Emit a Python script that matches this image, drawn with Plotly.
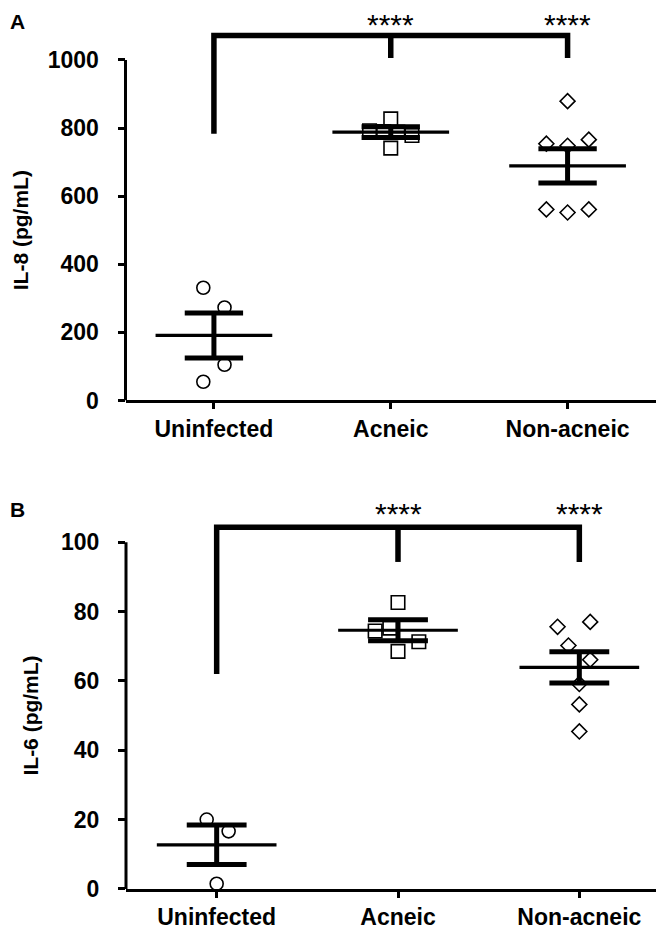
import plotly.graph_objects as go

categories = ["Uninfected", "Acneic", "Non-acneic"]

# ---- Panel A: IL-8 (pg/mL) ----
il8_uninfected = [331, 273, 105, 55]
il8_acneic = [827, 741, 792, 790, 788, 778]
il8_nonacneic = [879, 754, 748, 766, 561, 552, 561]
il8_mean = [191, 788, 689]
il8_sem = [66, 16, 50]
il8_ticks = [0, 200, 400, 600, 800, 1000]
il8_bracket = [783, 1072, 1006]      # left-leg bottom, top bar, tick bottom
il8_star_y = 1104

# ---- Panel B: IL-6 (pg/mL) ----
il6_uninfected = [20.0, 16.6, 1.5]
il6_acneic = [82.6, 74.4, 75.2, 71.3, 68.5]
il6_nonacneic = [75.6, 77.0, 70.2, 66.1, 59.1, 53.2, 45.4]
il6_mean = [12.7, 74.6, 63.9]
il6_sem = [5.7, 3.0, 4.5]
il6_ticks = [0, 20, 40, 60, 80, 100]
il6_bracket = [62, 104.3, 94.3]
il6_star_y = 108.2

# horizontal jitter of the individual points (category units)
jit_A = [[-0.06, 0.06, 0.06, -0.06],
         [0, 0, -0.12, -0.04, 0.04, 0.12],
         [0, -0.12, 0, 0.12, -0.12, 0, 0.12]]
jit_B = [[-0.055, 0.066, 0.0],
         [0.0, -0.126, -0.045, 0.115, 0.0],
         [-0.12, 0.06, -0.06, 0.06, 0.0, 0.0, 0.0]]

symbols = ["circle", "square", "diamond"]
msizes = [13, 13.5, 11.5]

W, H = 664, 936
FONT = "Liberation Sans, Arial, sans-serif"

fig = go.Figure()


def add_panel(xa, ya, groups, jit, mean, sem, bracket):
    for i, vals in enumerate(groups):
        fig.add_trace(go.Scatter(
            x=[i + j for j in jit[i]], y=vals, mode="markers",
            marker=dict(symbol=symbols[i], size=msizes[i], color="white",
                        line=dict(color="black", width=1.6)),
            xaxis=xa, yaxis=ya, showlegend=False, hoverinfo="skip"))
    mx, my, ex, ey = [], [], [], []
    for i, (m, s) in enumerate(zip(mean, sem)):
        mx += [i - 0.33, i + 0.33, None]
        my += [m, m, None]
        ex += [i - 0.165, i + 0.165, None, i - 0.165, i + 0.165, None, i, i, None]
        ey += [m + s, m + s, None, m - s, m - s, None, m - s, m + s, None]
    fig.add_trace(go.Scatter(x=mx, y=my, mode="lines",
                             line=dict(color="black", width=3.2),
                             xaxis=xa, yaxis=ya, showlegend=False, hoverinfo="skip"))
    fig.add_trace(go.Scatter(x=ex, y=ey, mode="lines",
                             line=dict(color="black", width=5),
                             xaxis=xa, yaxis=ya, showlegend=False, hoverinfo="skip"))
    lo, top, tk = bracket
    fig.add_trace(go.Scatter(x=[0, 0, 2, 2, None, 1, 1],
                             y=[lo, top, top, tk, None, top, tk], mode="lines",
                             line=dict(color="black", width=5.5),
                             xaxis=xa, yaxis=ya, showlegend=False, hoverinfo="skip"))


add_panel("x", "y", [il8_uninfected, il8_acneic, il8_nonacneic], jit_A,
          il8_mean, il8_sem, il8_bracket)
add_panel("x2", "y2", [il6_uninfected, il6_acneic, il6_nonacneic], jit_B,
          il6_mean, il6_sem, il6_bracket)

# pixel geometry of the two plotting areas
A_left, A_right, A_zero, A_ppu, A_top = 117.5, 648, 398, 0.3453, 1150
B_left, B_right, B_zero, B_ppu, B_top = 118, 662, 893.3, 3.516, 113

tickfont = dict(family=FONT, size=23, color="black", weight="bold")
xtickfont = dict(family=FONT, size=23, color="black", weight="bold")


def xaxis_cfg(l, r, anchor):
    return dict(domain=[l / W, r / W], range=[-0.5, 2.5], anchor=anchor,
                tickvals=[0, 1, 2], ticktext=categories, showline=True,
                linecolor="black", linewidth=3, ticks="outside", ticklen=6,
                tickwidth=2.5, tickcolor="black", tickfont=xtickfont,
                showgrid=False, zeroline=False, ticklabelstandoff=0)


def yaxis_cfg(zero, ppu, top, ticks, anchor):
    return dict(domain=[(H - zero) / H, (H - (zero - top * ppu)) / H],
                range=[0, top], anchor=anchor, tickvals=ticks,
                showline=False, ticks="outside", ticklen=7, tickwidth=2.5,
                tickcolor="black", tickfont=tickfont, showgrid=False,
                zeroline=False, ticklabelstandoff=14)


fig.update_layout(
    width=W, height=H, margin=dict(l=0, r=0, t=0, b=0),
    paper_bgcolor="white", plot_bgcolor="white",
    xaxis=xaxis_cfg(A_left, A_right, "y"),
    yaxis=yaxis_cfg(A_zero, A_ppu, A_top, il8_ticks, "x"),
    xaxis2=xaxis_cfg(B_left, B_right, "y2"),
    yaxis2=yaxis_cfg(B_zero, B_ppu, B_top, il6_ticks, "x2"),
)

# y-axis lines only spanning the tick range
fig.add_shape(type="line", xref="x domain", yref="y", x0=0, x1=0,
              y0=0, y1=il8_ticks[-1], line=dict(color="black", width=3))
fig.add_shape(type="line", xref="x2 domain", yref="y2", x0=0, x1=0,
              y0=0, y1=il6_ticks[-1], line=dict(color="black", width=3))

ann = []
for xr, yr, sy in [("x", "y", il8_star_y), ("x2", "y2", il6_star_y)]:
    for cx in [1, 2]:
        ann.append(dict(x=cx, y=sy, xref=xr, yref=yr, text="****",
                        showarrow=False, xanchor="center", yanchor="middle",
                        font=dict(family=FONT, size=30, color="black")))
ann.append(dict(x=12 / W, xref="paper", y=il8_ticks[-1] / 2, yref="y",
                text="IL-8 (pg/mL)", textangle=-90, showarrow=False,
                xanchor="center", yanchor="middle",
                font=dict(family=FONT, size=21, color="black", weight="bold")))
ann.append(dict(x=23 / W, xref="paper", y=il6_ticks[-1] / 2, yref="y2",
                text="IL-6 (pg/mL)", textangle=-90, showarrow=False,
                xanchor="center", yanchor="middle",
                font=dict(family=FONT, size=21, color="black", weight="bold")))
ann.append(dict(x=0, y=1.0, xref="paper", yref="paper", text="A",
                showarrow=False, xanchor="left", yanchor="top",
                font=dict(family=FONT, size=21, color="black", weight="bold")))
ann.append(dict(x=0, y=1 - 495 / H, xref="paper", yref="paper", text="B",
                showarrow=False, xanchor="left", yanchor="top",
                font=dict(family=FONT, size=21, color="black", weight="bold")))
fig.update_layout(annotations=ann)

fig.write_html("out.html")
